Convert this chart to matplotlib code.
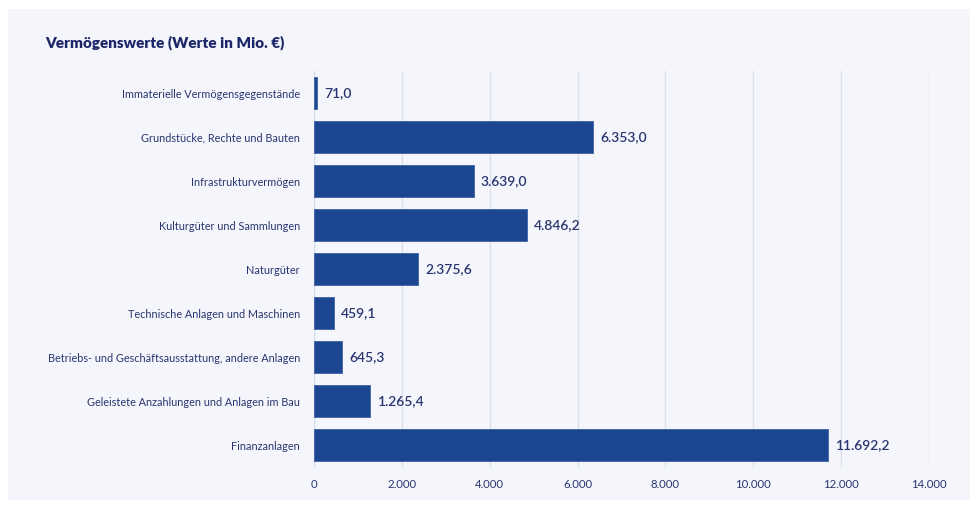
import matplotlib.pyplot as plt
from matplotlib.patches import Rectangle

plt.rcParams["font.family"] = ["Lato", "DejaVu Sans"]

categories = [
    "Immaterielle Vermögensgegenstände",
    "Grundstücke, Rechte und Bauten",
    "Infrastrukturvermögen",
    "Kulturgüter und Sammlungen",
    "Naturgüter",
    "Technische Anlagen und Maschinen",
    "Betriebs- und Geschäftsausstattung, andere Anlagen",
    "Geleistete Anzahlungen und Anlagen im Bau",
    "Finanzanlagen",
]
values = [71.0, 6353.0, 3639.0, 4846.2, 2375.6, 459.1, 645.3, 1265.4, 11692.2]
xticks = [0, 2000, 4000, 6000, 8000, 10000, 12000, 14000]

navy = "#1d4690"
text_col = "#2a3570"

def de_fmt(v, dec=1):
    s = f"{v:,.{dec}f}"
    return s.replace(",", "X").replace(".", ",").replace("X", ".")

fig = plt.figure(figsize=(9.77, 5.07), dpi=100)
fig.patch.set_facecolor("white")
fig.patches.append(Rectangle((8 / 977, 7 / 507), 962 / 977, 491 / 507,
                             transform=fig.transFigure, facecolor="#f4f6fb",
                             edgecolor="none", zorder=-10))

ax = fig.add_axes([314 / 977, 40 / 507, 615 / 977, 396 / 507])
ax.patch.set_visible(False)

ypos = list(range(len(categories)))
ax.barh(ypos, values, height=0.72, color=navy, edgecolor="#3c63a8", linewidth=0.6, zorder=3)
for y, v in zip(ypos, values):
    ax.text(v + 160, y, de_fmt(v), va="center", ha="left", fontsize=10,
            color=text_col, fontweight="semibold")

ax.set_ylim(len(categories) - 0.5, -0.5)
ax.set_xlim(0, 14000)
ax.set_yticks(ypos)
ax.set_yticklabels(categories, fontsize=7.8, color=text_col)
ax.set_xticks(xticks)
ax.set_xticklabels([de_fmt(t, 0) for t in xticks], fontsize=8.2, color=text_col)
ax.tick_params(axis="y", length=0, pad=10)
ax.tick_params(axis="x", length=0, pad=9)
ax.grid(axis="x", color="#d9dde8", linewidth=0.9, zorder=0)
for s in ["top", "right", "bottom"]:
    ax.spines[s].set_visible(False)
ax.spines["left"].set_color("#d9dde8")

fig.text(45 / 977, 1 - 43 / 507, "Vermögenswerte (Werte in Mio. €)", fontsize=11,
         fontweight="heavy", color="#1b2768", va="center", ha="left")

fig.savefig("out.png", dpi=100)
